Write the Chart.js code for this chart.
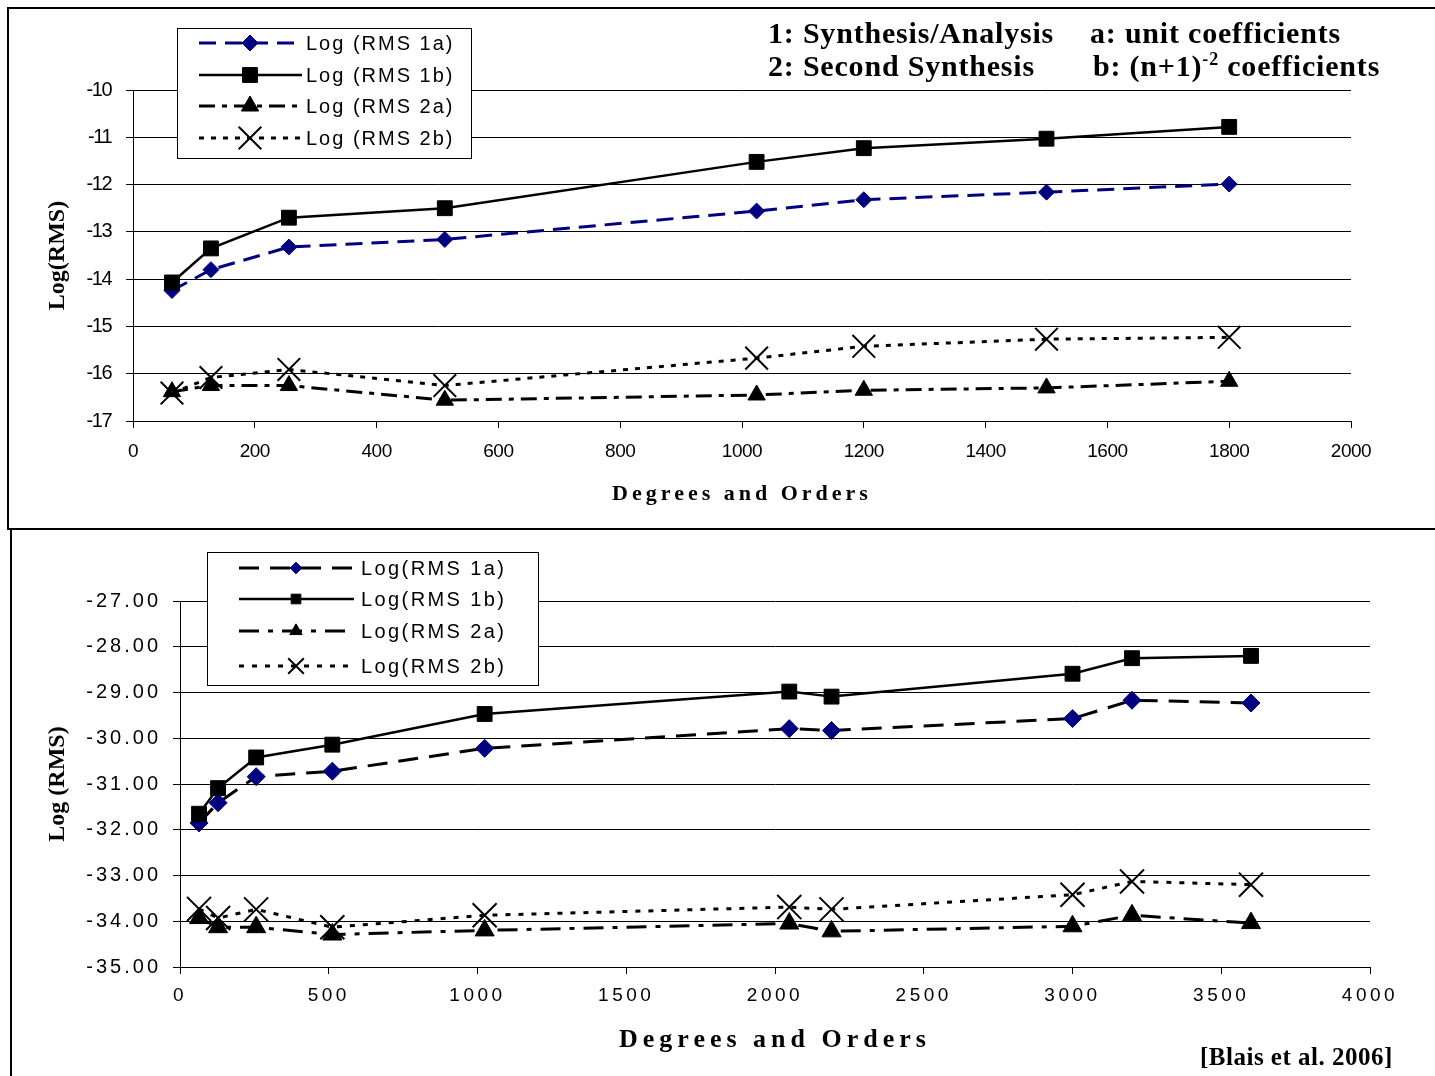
<!DOCTYPE html>
<html>
<head>
<meta charset="utf-8">
<script src="https://cdn.jsdelivr.net/npm/chart.js"></script>
<style>
  body { margin: 0; background: #fff; width: 1435px; height: 1076px; overflow: hidden; position: relative; }
  canvas { position: absolute; left: 0; }
  .panel1 { position: absolute; left: 7px; top: 7px; width: 1440px; height: 519px; border: 2px solid #000; border-right: none; }
  .panel2 { position: absolute; left: 10px; top: 528px; width: 2px; height: 560px; background: #000; }
  .note { position: absolute; font-family: "Liberation Serif", "Times New Roman", serif; font-weight: bold; color: #000; white-space: pre; line-height: 1; }
  .note sup { font-size: 60%; vertical-align: 0.6em; line-height: 0; }
</style>
</head>
<body>
<div class="panel1"></div>
<div class="panel2"></div>
<canvas id="chartTop" width="1435" height="527" style="top:0"></canvas>
<canvas id="chartBottom" width="1435" height="548" style="top:528px"></canvas>

<div class="note" style="left:768px; top:18px; font-size:30px; letter-spacing:0.8px">1: Synthesis/Analysis</div>
<div class="note" style="left:1090px; top:18px; font-size:30px; letter-spacing:0.8px">a: unit coefficients</div>
<div class="note" style="left:768px; top:51px; font-size:30px; letter-spacing:0.8px">2: Second Synthesis</div>
<div class="note" style="left:1093px; top:51px; font-size:30px; letter-spacing:0.8px">b: (n+1)<sup>-2</sup> coefficients</div>
<div class="note" style="left:1200px; top:1044px; font-size:25px; letter-spacing:0.5px">[Blais et al. 2006]</div>

<script>
// upper chart: degrees up to 1800
const degTop = [64, 128, 256, 512, 1024, 1200, 1500, 1800];
const top1a = [-14.24, -13.80, -13.32, -13.16, -12.56, -12.32, -12.16, -11.99];
const top1b = [-14.07, -13.35, -12.70, -12.50, -11.52, -11.23, -11.03, -10.78];
const top2a = [-16.38, -16.25, -16.25, -16.56, -16.45, -16.35, -16.30, -16.16];
const top2b = [-16.41, -16.08, -15.91, -16.25, -15.67, -15.42, -15.27, -15.23];

// lower chart: degrees up to 3600
const degBot = [64, 128, 256, 512, 1024, 2048, 2190, 3000, 3200, 3600];
const bot1a = [-31.85, -31.41, -30.84, -30.72, -30.22, -29.79, -29.83, -29.57, -29.17, -29.23];
const bot1b = [-31.65, -31.09, -30.42, -30.14, -29.47, -28.98, -29.09, -28.59, -28.25, -28.20];
const bot2a = [-33.93, -34.13, -34.13, -34.29, -34.20, -34.05, -34.22, -34.11, -33.87, -34.04];
const bot2b = [-33.73, -33.93, -33.74, -34.13, -33.87, -33.69, -33.74, -33.42, -33.13, -33.20];

const topLabels = ['Log (RMS 1a)', 'Log (RMS 1b)', 'Log (RMS 2a)', 'Log (RMS 2b)'];
const botLabels = ['Log(RMS 1a)', 'Log(RMS 1b)', 'Log(RMS 2a)', 'Log(RMS 2b)'];

const SANS = '"Liberation Sans", Arial, sans-serif';
const SERIF = '"Liberation Serif", "Times New Roman", serif';
const NAVY = '#000080';

function pts(xs, ys) {
    return xs.map((x, i) => ({ x: x, y: ys[i] }));
}

// letter spacing for tick labels and axis titles
const spacingPlugin = {
    id: 'spacing',
    beforeDraw(chart, args, opts) {
        for (const s of Object.values(chart.scales)) {
            if (s._spaced) continue;
            const o = opts[s.id] || {};
            const drawLabels = s.drawLabels;
            const drawTitle = s.drawTitle;
            s.drawLabels = function (area) {
                this.ctx.save();
                this.ctx.letterSpacing = (o.ticks || 0) + 'px';
                drawLabels.call(this, area);
                this.ctx.restore();
            };
            s.drawTitle = function () {
                this.ctx.save();
                this.ctx.letterSpacing = (o.title || 0) + 'px';
                drawTitle.call(this);
                this.ctx.restore();
            };
            s._spaced = true;
        }
    }
};

// boxed legend with line sample + marker, like the spreadsheet one
const boxLegend = {
    id: 'boxLegend',
    afterDraw(chart, args, o) {
        const ctx = chart.ctx;
        ctx.save();
        ctx.fillStyle = '#fff';
        ctx.fillRect(o.x, o.y, o.w, o.h);
        ctx.strokeStyle = '#000';
        ctx.lineWidth = 1;
        ctx.strokeRect(o.x + 0.5, o.y + 0.5, o.w, o.h);
        ctx.font = o.font;
        ctx.letterSpacing = o.spacing + 'px';
        ctx.textBaseline = 'middle';
        chart.data.datasets.forEach((ds, i) => {
            const y = o.rows[i];
            ctx.strokeStyle = ds.borderColor;
            ctx.lineWidth = ds.borderWidth;
            ctx.setLineDash(ds.borderDash || []);
            ctx.beginPath();
            ctx.moveTo(o.x1, y);
            ctx.lineTo(o.x2, y);
            ctx.stroke();
            ctx.setLineDash([]);
            ctx.fillStyle = ds.pointBackgroundColor;
            ctx.strokeStyle = ds.pointBorderColor;
            ctx.lineWidth = ds.pointBorderWidth;
            Chart.helpers.drawPoint(ctx, {
                pointStyle: ds.pointStyle,
                radius: ds.pointRadius * o.markerScale,
                borderWidth: ds.pointBorderWidth,
                rotation: 0
            }, o.mx, y);
            ctx.fillStyle = '#000';
            ctx.fillText(ds.label, o.tx, y + 1);
        });
        ctx.restore();
    }
};

function series(label, data, color, dash, width, style, radius, fill, bw, order) {
    return {
        label: label,
        data: data,
        borderColor: color,
        borderDash: dash,
        borderWidth: width,
        pointStyle: style,
        pointRadius: radius,
        pointBackgroundColor: fill,
        pointBorderColor: fill,
        pointBorderWidth: bw,
        tension: 0,
        fill: false,
        order: order
    };
}

function axisY(min, max, title, width, tickPad, fmt) {
    return {
        type: 'linear',
        min: min,
        max: max,
        ticks: { stepSize: 1, padding: tickPad, color: '#000', font: { family: SANS, size: 20 }, callback: fmt },
        grid: { color: '#000', lineWidth: 1, tickLength: 7 },
        border: { color: '#000', width: 1 },
        title: { display: true, text: title, color: '#000', font: { family: SERIF, size: 24, weight: 'bold' }, padding: { top: 13, bottom: 0 } },
        afterFit: s => { s.width = width; }
    };
}

function axisX(max, step, height, tickPad, titleSize, titlePad) {
    return {
        type: 'linear',
        min: 0,
        max: max,
        ticks: { stepSize: step, padding: tickPad, maxRotation: 0, autoSkip: false, color: '#000', font: { family: SANS, size: 19 }, callback: v => String(v) },
        grid: { drawOnChartArea: false, color: '#000', tickLength: 7 },
        border: { color: '#000', width: 1 },
        title: { display: true, text: 'Degrees and Orders', color: '#000', font: { family: SERIF, size: titleSize, weight: 'bold' }, padding: { top: 0, bottom: titlePad } },
        afterFit: s => { s.height = height; }
    };
}

new Chart(document.getElementById('chartTop'), {
    type: 'line',
    data: {
        datasets: [
            series(topLabels[0], pts(degTop, top1a), NAVY, [17, 9], 3, 'rectRot', 8, NAVY, 1, 4),
            series(topLabels[1], pts(degTop, top1b), '#000', [], 2.5, 'rect', 10.5, '#000', 1, 3),
            series(topLabels[2], pts(degTop, top2a), '#000', [16, 7, 5, 7], 3, 'triangle', 10, '#000', 1, 2),
            series(topLabels[3], pts(degTop, top2b), '#000', [5, 7], 3, 'crossRot', 16, '#000', 2, 1)
        ]
    },
    options: {
        responsive: false,
        animation: false,
        devicePixelRatio: 1,
        layout: { padding: { top: 90, left: 30, right: 84, bottom: 0 } },
        scales: {
            x: axisX(2000, 200, 106, 12, 22, 19),
            y: axisY(-17, -10, 'Log(RMS)', 103, 15)
        },
        plugins: {
            legend: { display: false },
            tooltip: { enabled: false },
            spacing: { x: { ticks: -0.5, title: 4 }, y: { ticks: -1.5, title: 0 } },
            boxLegend: {
                x: 177, y: 28, w: 294, h: 130,
                rows: [43, 75, 106, 138],
                x1: 199, x2: 302, mx: 250, tx: 306,
                font: '20px ' + SANS, spacing: 2, markerScale: 1
            }
        }
    },
    plugins: [spacingPlugin, boxLegend]
});

new Chart(document.getElementById('chartBottom'), {
    type: 'line',
    data: {
        datasets: [
            series(botLabels[0], pts(degBot, bot1a), '#000', [20, 11], 3, 'rectRot', 9, NAVY, 1, 4),
            series(botLabels[1], pts(degBot, bot1b), '#000', [], 2.5, 'rect', 10.5, '#000', 1, 3),
            series(botLabels[2], pts(degBot, bot2a), '#000', [20, 9, 5, 9], 3, 'triangle', 11, '#000', 1, 2),
            series(botLabels[3], pts(degBot, bot2b), '#000', [5, 8], 3, 'crossRot', 17, '#000', 2, 1)
        ]
    },
    options: {
        responsive: false,
        animation: false,
        devicePixelRatio: 1,
        layout: { padding: { top: 73, left: 30, right: 65, bottom: 0 } },
        scales: {
            x: axisX(4000, 500, 109, 10, 26, 20),
            y: axisY(-35, -27, 'Log (RMS)', 150, 12, v => v.toFixed(2))
        },
        plugins: {
            legend: { display: false },
            tooltip: { enabled: false },
            spacing: { x: { ticks: 3.5, title: 5 }, y: { ticks: 3, title: 0 } },
            boxLegend: {
                x: 207, y: 24, w: 331, h: 133,
                rows: [40, 71, 103, 138],
                x1: 239, x2: 354, mx: 296, tx: 361,
                font: '20px ' + SANS, spacing: 2.4, markerScale: 0.65
            }
        }
    },
    plugins: [spacingPlugin, boxLegend]
});
</script>
</body>
</html>
